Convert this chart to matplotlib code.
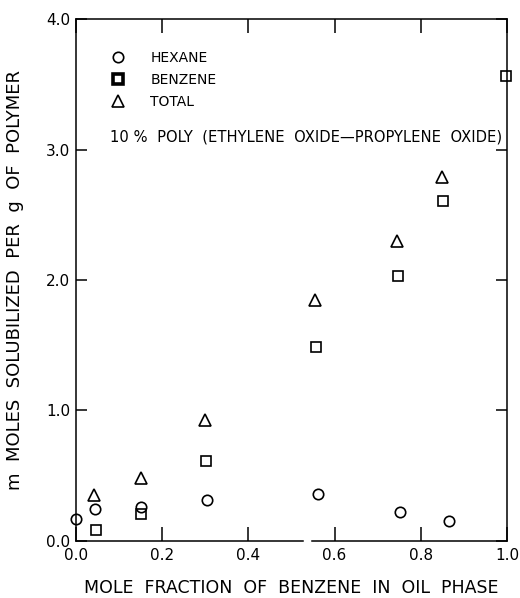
import matplotlib
matplotlib.use("Agg")
import matplotlib.pyplot as plt
from matplotlib.lines import Line2D

# hexane solubilized
hex_x = [0.0, 0.044, 0.152, 0.305, 0.562, 0.751, 0.865]
hex_y = [0.17, 0.24, 0.26, 0.31, 0.36, 0.22, 0.15]

# benzene solubilized
benz_x = [0.047, 0.152, 0.302, 0.557, 0.746, 0.851, 0.998]
benz_y = [0.08, 0.205, 0.61, 1.485, 2.03, 2.605, 3.57]

# total
tot_x = [0.043, 0.151, 0.300, 0.555, 0.744, 0.850]
tot_y = [0.35, 0.485, 0.926, 1.85, 2.30, 2.795]

x_ticks = [0.0, 0.2, 0.4, 0.6, 0.8, 1.0]
x_labels = ["0.0", "0.2", "0.4", "0.6", "0.8", "1.0"]
y_ticks = [0.0, 1.0, 2.0, 3.0, 4.0]
y_labels = ["0.0", "1.0", "2.0", "3.0", "4.0"]

plt.rcParams['font.family'] = ['DejaVu Sans']

fig = plt.figure(figsize=(5.2, 5.98), dpi=100)
ax = fig.add_axes([0.146, 0.0958, 0.829, 0.8716])

mk = dict(linestyle='none', markerfacecolor='none', markeredgecolor='black',
          markeredgewidth=1.2, clip_on=False)
ax.plot(hex_x, hex_y, marker='o', markersize=7.5, **mk)
ax.plot(benz_x, benz_y, marker='s', markersize=7.5, **mk)
ax.plot(tot_x, tot_y, marker='^', markersize=8, **mk)

ax.set_xlim(0, 1.0)
ax.set_ylim(0, 4.0)
ax.set_xticks(x_ticks)
ax.set_xticklabels(x_labels)
ax.set_yticks(y_ticks)
ax.set_yticklabels(y_labels)

ax.tick_params(axis='x', direction='in', length=10, width=1.1, top=True,
               labelsize=11, pad=5)
ax.tick_params(axis='y', direction='in', length=8, width=1.1, right=True,
               labelsize=11, pad=4)

for s in ['left', 'right', 'top']:
    ax.spines[s].set_linewidth(1.1)
# bottom axis is broken near 0.53
ax.spines['bottom'].set_visible(False)
ax.axhline(0, xmin=0, xmax=0.527, color='black', lw=1.1, clip_on=False)
ax.axhline(0, xmin=0.547, xmax=1.0, color='black', lw=1.1, clip_on=False)

ax.set_xlabel("MOLE  FRACTION  OF  BENZENE  IN  OIL  PHASE", fontsize=12.5,
              labelpad=12)
ax.set_ylabel("m  MOLES  SOLUBILIZED  PER  g  OF  POLYMER", fontsize=13,
              labelpad=16)

handles = [
    Line2D([], [], marker='o', markersize=7.5, linestyle='none',
           markerfacecolor='none', markeredgecolor='black', markeredgewidth=1.2),
    Line2D([], [], marker='s', markersize=7.5, linestyle='none',
           markerfacecolor='none', markeredgecolor='black', markeredgewidth=2.6),
    Line2D([], [], marker='^', markersize=8, linestyle='none',
           markerfacecolor='none', markeredgecolor='black', markeredgewidth=1.2),
]
ax.legend(handles, ["HEXANE", "BENZENE", "TOTAL"], loc='upper left',
          bbox_to_anchor=(0.0726, 0.94), frameon=False, fontsize=10,
          handlelength=1.5, handletextpad=1.6, borderpad=0, borderaxespad=0,
          labelspacing=0.58)

ax.text(0.079, 3.10, "10 %  POLY  (ETHYLENE  OXIDE\u2014PROPYLENE  OXIDE)",
        fontsize=10.6, ha='left', va='center')

fig.savefig("out.png", dpi=100)
